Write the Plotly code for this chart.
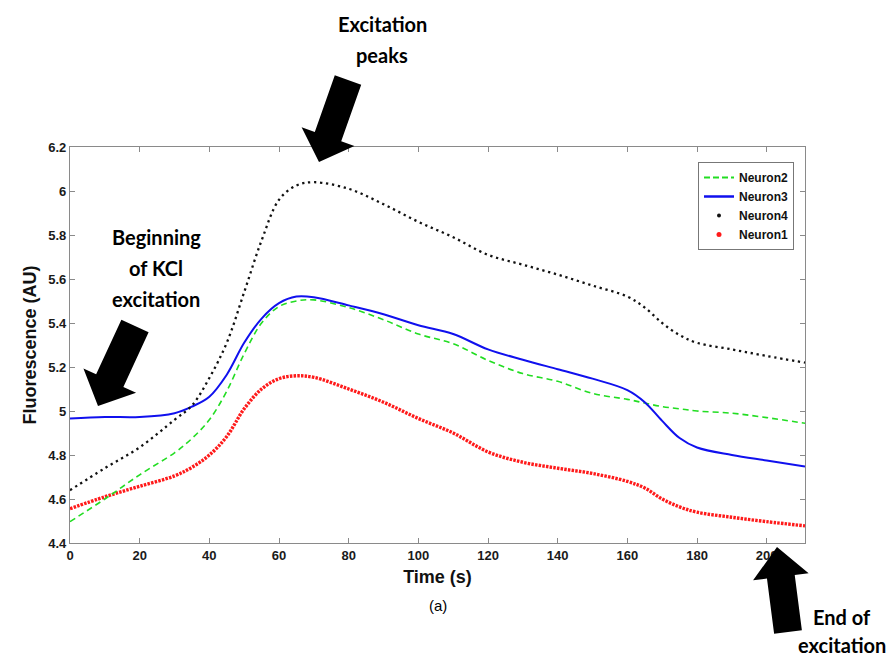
import math
import plotly.graph_objects as go

# ---------------- data ----------------
time_s = [0, 10, 20, 30, 35, 40, 45, 50, 55, 60, 65, 70, 80, 90, 100, 110,
          120, 130, 140, 150, 160, 165, 170, 175, 180, 190, 200, 211]

neuron1 = [4.556, 4.61, 4.658, 4.705, 4.744, 4.80, 4.884, 5.01, 5.10, 5.147, 5.16, 5.153,
           5.10, 5.04, 4.966, 4.90, 4.814, 4.767, 4.74, 4.716, 4.68, 4.65, 4.60, 4.564,
           4.54, 4.517, 4.497, 4.478]
neuron2 = [4.497, 4.60, 4.71, 4.81, 4.875, 4.96, 5.09, 5.26, 5.40, 5.475, 5.50, 5.505,
           5.47, 5.415, 5.35, 5.306, 5.23, 5.17, 5.135, 5.08, 5.053, 5.036, 5.02, 5.01,
           5.0, 4.99, 4.97, 4.944]
neuron3 = [4.966, 4.973, 4.973, 4.99, 5.02, 5.065, 5.165, 5.31, 5.42, 5.49, 5.52, 5.517,
           5.48, 5.44, 5.39, 5.35, 5.28, 5.233, 5.19, 5.147, 5.095, 5.04, 4.955, 4.877,
           4.834, 4.80, 4.775, 4.748]
neuron4 = [4.64, 4.74, 4.835, 4.96, 5.025, 5.15, 5.31, 5.54, 5.775, 5.96, 6.025, 6.04,
           6.01, 5.94, 5.86, 5.79, 5.71, 5.665, 5.62, 5.57, 5.52, 5.47, 5.40, 5.345,
           5.31, 5.28, 5.25, 5.22]

x_ticks = [0, 20, 40, 60, 80, 100, 120, 140, 160, 180, 200]
y_ticks = [4.4, 4.6, 4.8, 5.0, 5.2, 5.4, 5.6, 5.8, 6.0, 6.2]
x_range = [0, 211]
y_range = [4.4, 6.2]

# ---------------- figure geometry ----------------
OFF = 8                     # page body margin in the browser
W, H = 896 - OFF, 659 - OFF
ML, MT = 70 - OFF, 147 - OFF
MR = W - (805 - OFF)
MB = H - (543 - OFF)
PW, PH = W - ML - MR, H - MT - MB

def px2paper(px, py):
    """screen pixel -> paper coordinates"""
    fx, fy = px - OFF, py - OFF
    return (fx - ML) / PW, (H - MB - fy) / PH

fig = go.Figure()

# data traces (legend handled by dummy traces below)
fig.add_trace(go.Scatter(x=time_s, y=neuron1, mode="lines", line_shape="spline",
                         line=dict(color="#ff1a1a", width=3.4, dash="2.5px,1.2px"),
                         showlegend=False, name="Neuron1"))
fig.add_trace(go.Scatter(x=time_s, y=neuron2, mode="lines", line_shape="spline",
                         line=dict(color="#22dd22", width=1.6, dash="6px,4px"),
                         showlegend=False, name="Neuron2"))
fig.add_trace(go.Scatter(x=time_s, y=neuron3, mode="lines", line_shape="spline",
                         line=dict(color="#1010ee", width=2),
                         showlegend=False, name="Neuron3"))
fig.add_trace(go.Scatter(x=time_s, y=neuron4, mode="lines", line_shape="spline",
                         line=dict(color="#111111", width=2.3, dash="2.3px,3.7px"),
                         showlegend=False, name="Neuron4"))

# legend entries
fig.add_trace(go.Scatter(x=[None], y=[None], mode="lines", name="Neuron2",
                         line=dict(color="#22dd22", width=2, dash="6px,3px")))
fig.add_trace(go.Scatter(x=[None], y=[None], mode="lines", name="Neuron3",
                         line=dict(color="#1010ee", width=2.5)))
fig.add_trace(go.Scatter(x=[None], y=[None], mode="markers", name="Neuron4",
                         marker=dict(color="#111111", size=4, symbol="circle")))
fig.add_trace(go.Scatter(x=[None], y=[None], mode="markers", name="Neuron1",
                         marker=dict(color="#ff1a1a", size=5, symbol="circle")))

# ---------------- block arrows ----------------
def arrow_path(tail, tip, shaft_w, head_w, head_len):
    tx, ty = tail
    hx, hy = tip
    dx, dy = hx - tx, hy - ty
    L = math.hypot(dx, dy)
    ux, uy = dx / L, dy / L
    nx, ny = -uy, ux
    bx, by = hx - ux * head_len, hy - uy * head_len
    pts = [
        (tx + nx * shaft_w / 2, ty + ny * shaft_w / 2),
        (bx + nx * shaft_w / 2, by + ny * shaft_w / 2),
        (bx + nx * head_w / 2, by + ny * head_w / 2),
        (hx, hy),
        (bx - nx * head_w / 2, by - ny * head_w / 2),
        (bx - nx * shaft_w / 2, by - ny * shaft_w / 2),
        (tx - nx * shaft_w / 2, ty - ny * shaft_w / 2),
    ]
    pp = [px2paper(x, y) for x, y in pts]
    return "M " + " L ".join(f"{a:.5f},{b:.5f}" for a, b in pp) + " Z"

arrows = [
    ((135, 326), (98, 406), 30, 58, 28),
    ((348, 80), (319, 162), 28, 56, 27),
    ((788, 632), (777, 547), 28, 56, 30),
]
for tail, tip, sw, hw, hl in arrows:
    fig.add_shape(type="path", xref="paper", yref="paper",
                  path=arrow_path(tail, tip, sw, hw, hl),
                  fillcolor="black", line=dict(width=0), layer="above")

# ---------------- text annotations ----------------
ann_font = dict(family="Lato, Open Sans, sans-serif", size=20, color="black", weight="bold")
texts = [
    ("Excitation", 382, 24), ("peaks", 382, 55),
    ("Beginning", 156, 237), ("of KCl", 156, 268), ("excitation", 156, 299),
    ("End of", 842, 617), ("excitation", 842, 645),
]
for t, px, py in texts:
    ax, ay = px2paper(px, py)
    fig.add_annotation(text=t, x=ax, y=ay, xref="paper", yref="paper",
                       showarrow=False, xanchor="center", yanchor="middle",
                       font=ann_font)

ax, ay = px2paper(438, 605)
fig.add_annotation(text="(a)", x=ax, y=ay, xref="paper", yref="paper",
                   showarrow=False, xanchor="center", yanchor="middle",
                   font=dict(family="Liberation Sans, Arial, sans-serif", size=15, color="black"))

axis_common = dict(showline=True, linecolor="#8a8a8a", linewidth=1.2, mirror="ticks",
                   ticks="inside", ticklen=5, tickcolor="#8a8a8a", tickwidth=1,
                   showgrid=False, zeroline=False,
                   tickfont=dict(family="Liberation Sans, Arial, sans-serif", size=13,
                                 color="#1a1a1a", weight="bold"))

lx, ly = px2paper(698, 162)
fig.update_layout(
    width=W, height=H,
    margin=dict(l=ML, r=MR, t=MT, b=MB, autoexpand=False),
    paper_bgcolor="white", plot_bgcolor="white",
    xaxis=dict(range=x_range, tickvals=x_ticks, ticktext=[str(v) for v in x_ticks],
               title=dict(text="Time (s)", standoff=8,
                          font=dict(family="Liberation Sans, Arial, sans-serif", size=18,
                                    color="#111", weight="bold")),
               **axis_common),
    yaxis=dict(range=y_range, tickvals=y_ticks, ticktext=[f"{v:g}" for v in y_ticks],
               title=dict(text="Fluorescence (AU)", standoff=6,
                          font=dict(family="Liberation Sans, Arial, sans-serif", size=18,
                                    color="#111", weight="bold")),
               **axis_common),
    legend=dict(x=lx, y=ly, xanchor="left", yanchor="top",
                bgcolor="white", bordercolor="#777", borderwidth=1,
                font=dict(family="Liberation Sans, Arial, sans-serif", size=12,
                          color="#111", weight="bold"),
                itemwidth=30, tracegroupgap=0),
    showlegend=True,
)

fig.write_html("out.html")
